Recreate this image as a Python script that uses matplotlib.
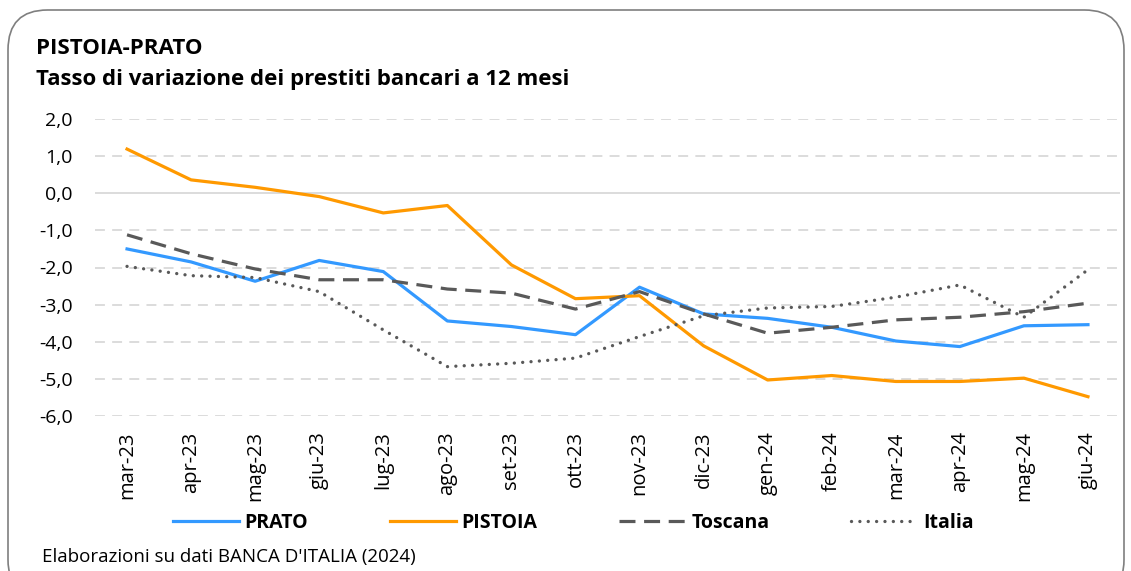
import matplotlib.pyplot as plt
from matplotlib.patches import FancyBboxPatch

plt.rcParams['font.family'] = ['Open Sans', 'DejaVu Sans']

months = ['mar-23', 'apr-23', 'mag-23', 'giu-23', 'lug-23', 'ago-23', 'set-23', 'ott-23',
          'nov-23', 'dic-23', 'gen-24', 'feb-24', 'mar-24', 'apr-24', 'mag-24', 'giu-24']
prato = [-1.50, -1.85, -2.37, -1.81, -2.11, -3.44, -3.59, -3.81,
         -2.53, -3.25, -3.37, -3.61, -3.98, -4.13, -3.57, -3.54]
pistoia = [1.19, 0.36, 0.16, -0.09, -0.53, -0.33, -1.93, -2.84,
           -2.76, -4.11, -5.03, -4.91, -5.07, -5.07, -4.98, -5.48]
toscana = [-1.12, -1.63, -2.04, -2.33, -2.33, -2.58, -2.69, -3.12,
           -2.65, -3.25, -3.77, -3.61, -3.41, -3.34, -3.19, -2.96]
italia = [-1.97, -2.22, -2.27, -2.65, -3.68, -4.67, -4.58, -4.44,
          -3.86, -3.30, -3.09, -3.05, -2.80, -2.47, -3.34, -2.06]
yticks = [2, 1, 0, -1, -2, -3, -4, -5, -6]

fig = plt.figure(figsize=(11.31, 5.71), dpi=100)
ax = fig.add_axes([95/1131, 1-416/571, 1025/1131, 297/571])

# rounded frame around the whole chart
border = FancyBboxPatch((8/1131, -0.05), 1116/1131, 1.05 - 10/571,
                        boxstyle='round,pad=0,rounding_size=0.035',
                        transform=fig.transFigure, fill=False,
                        edgecolor='#7f7f7f', linewidth=1.2, mutation_aspect=2)
fig.patches.append(border)

x = list(range(len(months)))
for v in yticks:
    if v == 0:
        ax.axhline(v, color='#d9d9d9', lw=1.3, zorder=1)
    else:
        ax.axhline(v, color='#d9d9d9', lw=1.3, ls=(0, (5.5, 4)), zorder=1)

ax.plot(x, prato, color='#3399ff', lw=2.3, label='PRATO', zorder=3)
ax.plot(x, pistoia, color='#ff9900', lw=2.3, label='PISTOIA', zorder=3)
ax.plot(x, toscana, color='#595959', lw=2.3, ls=(0, (5, 2.7)), label='Toscana', zorder=3)
ax.plot(x, italia, color='#595959', lw=2.4, ls=(0, (0.01, 2.5)), dash_capstyle='round',
        label='Italia', zorder=3)

ax.set_xlim(-0.5, len(months) - 0.5)
ax.set_ylim(-6, 2)
ax.set_xticks(x)
ax.set_xticklabels(months, rotation=90, fontsize=14.5)
ax.set_yticks(yticks)
ax.set_yticklabels([f'{v:.1f}'.replace('.', ',') for v in yticks], fontsize=14)
ax.tick_params(axis='y', length=0, pad=16)
ax.tick_params(axis='x', length=0, pad=11)
for s in ax.spines.values():
    s.set_visible(False)

fig.text(36/1131, 1-48/571, 'PISTOIA-PRATO', fontsize=16, fontweight='bold', va='center')
fig.text(36/1131, 1-80/571, 'Tasso di variazione dei prestiti bancari a 12 mesi',
         fontsize=16, fontweight='bold', va='center')

fig.legend(loc='center left', bbox_to_anchor=(155/1131, 1-523/571), ncol=4, frameon=False,
           handlelength=3.4, handletextpad=0.3, columnspacing=4.2,
           prop={'size': 14, 'weight': 'bold'})

fig.text(42/1131, 1-557/571, "Elaborazioni su dati BANCA D'ITALIA (2024)", fontsize=13.5, va='center')

fig.savefig('out.png', dpi=100)
